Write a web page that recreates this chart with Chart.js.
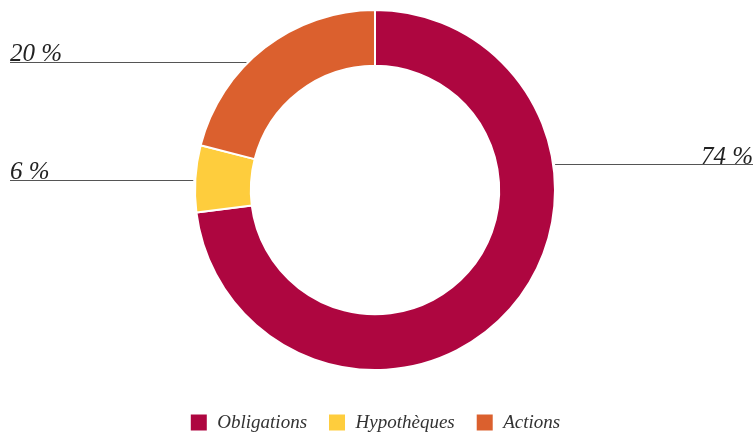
<!DOCTYPE html>
<html>
<head>
<meta charset="utf-8">
<script src="https://cdn.jsdelivr.net/npm/chart.js@4.4.1/dist/chart.umd.min.js"></script>
<style>
    html, body { margin: 0; padding: 0; background: #fff; }
    #wrap { width: 756px; height: 436px; }
</style>
</head>
<body>
<div id="wrap"><canvas id="chartRepartition"></canvas></div>
<script>
const categories = ['Obligations', 'Hypothèques', 'Actions'];
const parts = [73, 6, 21];
const partLabels = ['74 %', '6 %', '20 %'];
const colors = ['#AE0640', '#FECD3D', '#DB602E'];

// position des traits de rappel (fraction du rayon, côté)
const leaders = [
    { dy: -0.144, side: 'right' },
    { dy: -0.053, side: 'left' },
    { dy: -0.711, side: 'left' }
];

const etiquettes = {
    id: 'etiquettes',
    afterDatasetsDraw(chart) {
        const ctx = chart.ctx;
        const arc = chart.getDatasetMeta(0).data[0];
        const cx = arc.x, cy = arc.y, r = arc.outerRadius;
        ctx.save();
        ctx.font = 'italic 25px "Liberation Serif", serif';
        ctx.fillStyle = '#222';
        ctx.strokeStyle = '#555';
        ctx.lineWidth = 1;
        leaders.forEach((l, i) => {
            const dy = l.dy * r;
            const y = Math.round(cy + dy) + 0.5;
            const dx = Math.sqrt(r * r - dy * dy) + 2;
            ctx.beginPath();
            if (l.side === 'left') {
                ctx.moveTo(10, y);
                ctx.lineTo(cx - dx, y);
                ctx.stroke();
                ctx.textAlign = 'left';
                ctx.fillText(partLabels[i], 10, y - 8);
            } else {
                ctx.moveTo(cx + dx, y);
                ctx.lineTo(753, y);
                ctx.stroke();
                ctx.textAlign = 'right';
                ctx.fillText(partLabels[i], 753, y - 7);
            }
        });
        ctx.restore();
    }
};

new Chart(document.getElementById('chartRepartition'), {
    type: 'doughnut',
    data: {
        labels: categories,
        datasets: [{
            data: parts,
            backgroundColor: colors,
            borderColor: '#fff',
            borderWidth: 2,
            radius: 180,
            cutout: '69%'
        }]
    },
    options: {
        responsive: true,
        maintainAspectRatio: false,
        animation: false,
        events: [],
        layout: { padding: { top: 0, bottom: -6, left: 0, right: 6 } },
        plugins: {
            legend: {
                position: 'bottom',
                title: { display: true, text: ' ', font: { size: 10 }, padding: 0 },
                labels: {
                    boxWidth: 18,
                    boxHeight: 18,
                    padding: 21,
                    color: '#333',
                    font: { family: '"Liberation Serif", serif', style: 'italic', size: 19 }
                }
            },
            tooltip: { enabled: false }
        }
    },
    plugins: [etiquettes]
});
</script>
</body>
</html>
